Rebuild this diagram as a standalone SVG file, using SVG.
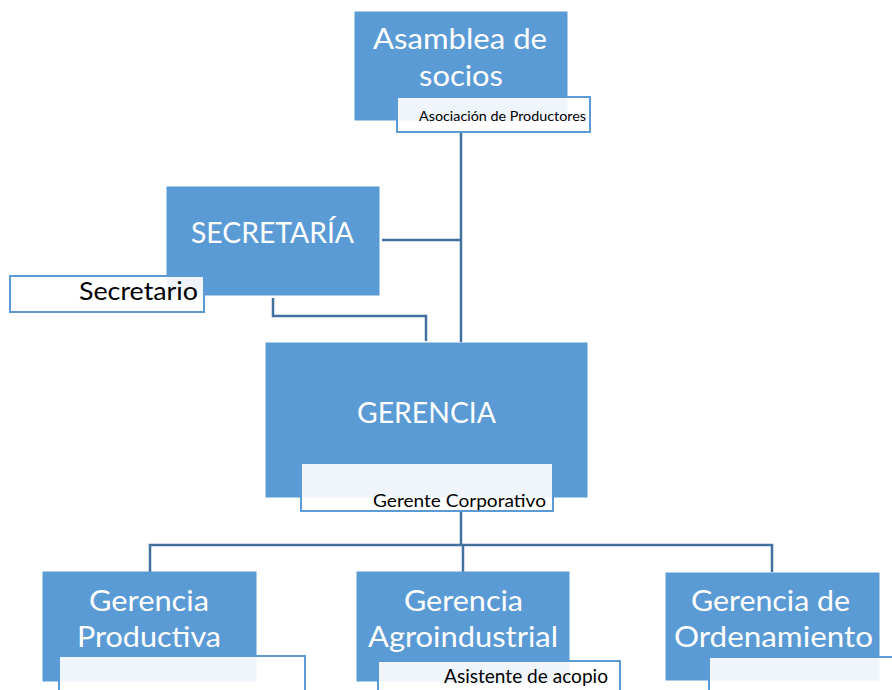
<svg xmlns="http://www.w3.org/2000/svg" width="892" height="690" viewBox="0 0 892 690">
<style>
.box{fill:#5b9bd5;stroke:#5b9bd5;stroke-width:1}
.sub{fill:#ffffff;fill-opacity:0.9;stroke:#5b9bd5;stroke-width:2}
.t{font-family:Lato,"Noto Sans","Liberation Sans",sans-serif;fill:#ffffff;font-size:28px}
.s{font-family:Lato,"Noto Sans","Liberation Sans",sans-serif;fill:#000000}
.c{fill:none;stroke:#41719c;stroke-width:2.5}
</style>
<rect width="892" height="690" fill="#ffffff"/>
<g id="connectors">
<path class="c" d="M461 132 V342"/>
<path class="c" d="M382 240 H461"/>
<path class="c" d="M273 298 V316 H426 V341"/>
<path class="c" d="M461 511 V545"/>
<path class="c" d="M150 572 V545 H772 V572"/>
<path class="c" d="M463 545 V572"/>
</g>
<g id="asamblea">
<rect class="box" x="355" y="12" width="212" height="108"/>
<text class="t" x="373" y="49" textLength="174" lengthAdjust="spacingAndGlyphs">Asamblea de</text>
<text class="t" x="419" y="86" textLength="84" lengthAdjust="spacingAndGlyphs">socios</text>
<rect class="sub" x="397" y="97" width="193" height="35"/>
<text class="s" x="419" y="121" font-size="14" textLength="167" lengthAdjust="spacingAndGlyphs">Asociación de Productores</text>
</g>
<g id="secretaria">
<rect class="box" x="167" y="187" width="212" height="108"/>
<text class="t" x="191" y="243" textLength="163" lengthAdjust="spacingAndGlyphs">SECRETARÍA</text>
<rect class="sub" x="10" y="276" width="194" height="36"/>
<text class="s" x="79" y="300" font-size="25" textLength="119" lengthAdjust="spacingAndGlyphs">Secretario</text>
</g>
<g id="gerencia">
<rect class="box" x="266" y="343" width="321" height="154"/>
<text class="t" x="357" y="423" textLength="139" lengthAdjust="spacingAndGlyphs">GERENCIA</text>
<rect class="sub" x="301" y="463" width="252" height="48"/>
<text class="s" x="373" y="507" font-size="18" textLength="173" lengthAdjust="spacingAndGlyphs">Gerente Corporativo</text>
</g>
<g id="productiva">
<rect class="box" x="43" y="572" width="213" height="109"/>
<text class="t" x="89" y="611" textLength="120" lengthAdjust="spacingAndGlyphs">Gerencia</text>
<text class="t" x="77" y="647" textLength="144" lengthAdjust="spacingAndGlyphs">Productiva</text>
<rect class="sub" x="59" y="656" width="246" height="45"/>
</g>
<g id="agroindustrial">
<rect class="box" x="357" y="572" width="212" height="109"/>
<text class="t" x="404" y="611" textLength="119" lengthAdjust="spacingAndGlyphs">Gerencia</text>
<text class="t" x="368" y="647" textLength="190" lengthAdjust="spacingAndGlyphs">Agroindustrial</text>
<rect class="sub" x="378" y="661" width="242" height="40"/>
<text class="s" x="444" y="683" font-size="19" textLength="164" lengthAdjust="spacingAndGlyphs">Asistente de acopio</text>
</g>
<g id="ordenamiento">
<rect class="box" x="666" y="573" width="213" height="107"/>
<text class="t" x="691" y="611" textLength="159" lengthAdjust="spacingAndGlyphs">Gerencia de</text>
<text class="t" x="674" y="647" textLength="199" lengthAdjust="spacingAndGlyphs">Ordenamiento</text>
<rect class="sub" x="709" y="657" width="200" height="45"/>
</g>
</svg>
